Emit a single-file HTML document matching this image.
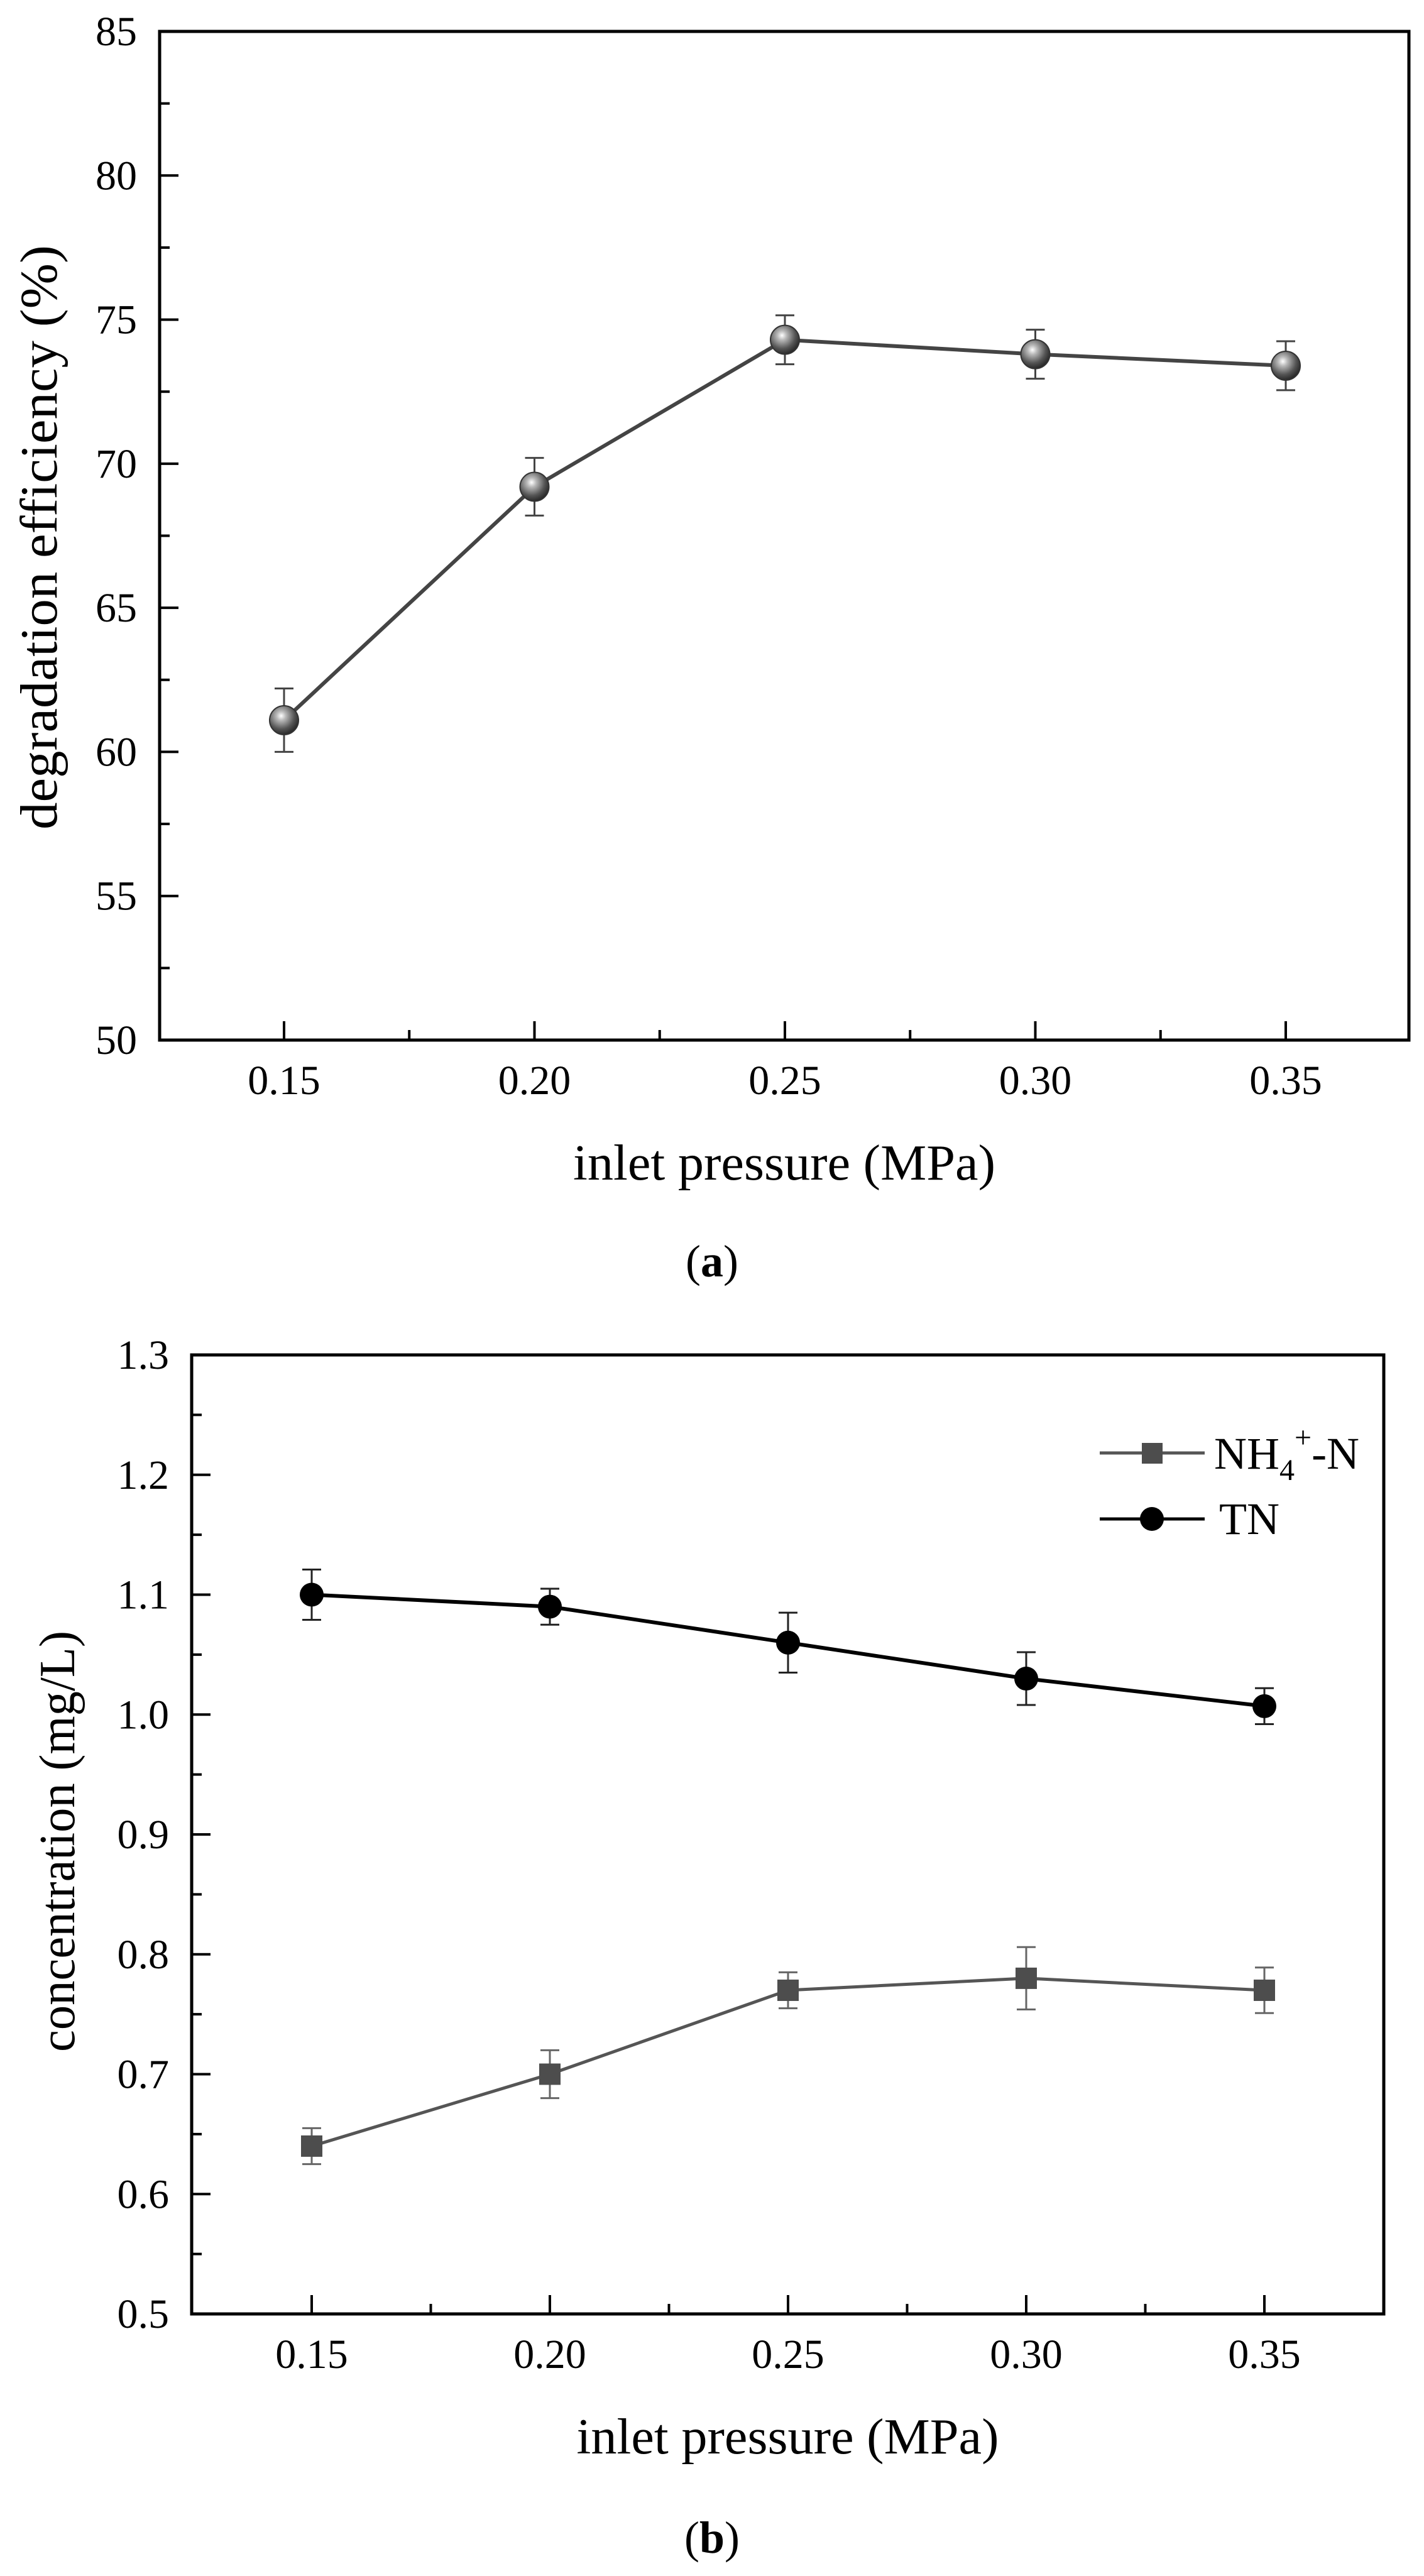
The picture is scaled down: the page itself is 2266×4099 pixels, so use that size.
<!DOCTYPE html>
<html><head><meta charset="utf-8"><style>
html,body{margin:0;padding:0;background:#fff;}
svg{display:block;font-family:"Liberation Serif",serif;}
</style></head><body>
<svg id="svg" width="2266" height="4099" viewBox="0 0 2266 4099" xmlns="http://www.w3.org/2000/svg">
<defs>
<radialGradient id="sph" cx="0.4" cy="0.35" r="0.65">
<stop offset="0" stop-color="#ffffff"/><stop offset="0.25" stop-color="#b8b8b8"/><stop offset="0.7" stop-color="#555"/><stop offset="1" stop-color="#2a2a2a"/>
</radialGradient>
</defs>
<g id="chartA"></g>
<g id="chartB"></g>
<text x="1133" y="2031" font-size="72" text-anchor="middle">(<tspan font-weight="bold">a</tspan>)</text>
<text x="1133" y="4062" font-size="72" text-anchor="middle">(<tspan font-weight="bold">b</tspan>)</text>
</svg>
<script>
const xCats = [0.15, 0.20, 0.25, 0.30, 0.35];
const xTickLabels = ["0.15", "0.20", "0.25", "0.30", "0.35"];
const effValues = [61.1, 69.2, 74.3, 73.8, 73.4];
const effErr = [1.1, 1.0, 0.85, 0.85, 0.85];
const effTicks = [50, 55, 60, 65, 70, 75, 80, 85];
const tnValues = [1.10, 1.09, 1.06, 1.03, 1.007];
const tnErr = [0.021, 0.015, 0.025, 0.022, 0.015];
const nhValues = [0.64, 0.70, 0.77, 0.78, 0.77];
const nhErr = [0.015, 0.02, 0.015, 0.026, 0.019];
const concTicks = [0.5, 0.6, 0.7, 0.8, 0.9, 1.0, 1.1, 1.2, 1.3];
const concTickLabels = ["0.5", "0.6", "0.7", "0.8", "0.9", "1.0", "1.1", "1.2", "1.3"];

const NS = "http://www.w3.org/2000/svg";
function mk(parent, tag, attrs, text) {
  const e = document.createElementNS(NS, tag);
  for (const k in attrs) e.setAttribute(k, attrs[k]);
  if (text !== undefined) e.textContent = text;
  parent.appendChild(e);
  return e;
}

function drawAxes(g, L, R, T, B, xScale, yScale, yTicks, yLabels, xTitle, yTitle, yTitleX, yTitleCy, yTitleLen, yTitleFs) {
  const frame = mk(g, 'rect', {x: L, y: T, width: R - L, height: B - T, fill: 'none', stroke: '#000', 'stroke-width': 5});
  
  
  xCats.forEach((v, i) => {
    const x = xScale(v);
    const t = mk(g, 'line', {x1: x, x2: x, y1: B, y2: B - 30, stroke: '#000', 'stroke-width': 4});
    
    
    const lb = mk(g, 'text', {x: x, y: B + 86, 'font-size': 66, 'text-anchor': 'middle'}, xTickLabels[i]);
    
    
    if (i < xCats.length - 1) {
      const xm = xScale((v + xCats[i + 1]) / 2);
      const m = mk(g, 'line', {x1: xm, x2: xm, y1: B, y2: B - 16, stroke: '#000', 'stroke-width': 4});
      
      
    }
  });
  yTicks.forEach((v, i) => {
    const y = yScale(v);
    const t = mk(g, 'line', {x1: L, x2: L + 30, y1: y, y2: y, stroke: '#000', 'stroke-width': 4});
    
    
    const lb = mk(g, 'text', {x: L - 36, y: y + 22, 'font-size': 66, 'text-anchor': 'end'}, yLabels[i]);
    
    
    if (i < yTicks.length - 1) {
      const ym = yScale((v + yTicks[i + 1]) / 2);
      const m = mk(g, 'line', {x1: L, x2: L + 16, y1: ym, y2: ym, stroke: '#000', 'stroke-width': 4});
      
      
    }
  });
  const xt = mk(g, 'text', {x: (L + R) / 2, y: B + 222, 'font-size': 80, 'text-anchor': 'middle', textLength: 672, lengthAdjust: 'spacingAndGlyphs'}, xTitle);
  
  
  const yt = mk(g, 'text', {x: -yTitleLen / 2, y: 0, 'font-size': yTitleFs, textLength: yTitleLen, lengthAdjust: 'spacingAndGlyphs', transform: 'translate(' + yTitleX + ',' + yTitleCy + ') rotate(-90)'}, yTitle);
  
  
}

function errBars(g, xScale, yScale, vals, errs, color, name) {
  vals.forEach((v, i) => {
    const x = xScale(xCats[i]);
    const y1 = yScale(v + errs[i]), y2 = yScale(v - errs[i]);
    const e = mk(g, 'path', {d: 'M' + x + ' ' + y1 + 'V' + y2 + 'M' + (x - 15) + ' ' + y1 + 'H' + (x + 15) + 'M' + (x - 15) + ' ' + y2 + 'H' + (x + 15), stroke: color, 'stroke-width': 3, fill: 'none'});
    
    
  });
}
function line(g, xScale, yScale, vals, color, w, name) {
  const d = vals.map((v, i) => (i ? 'L' : 'M') + xScale(xCats[i]) + ' ' + yScale(v)).join('');
  const p = mk(g, 'path', {d: d, stroke: color, 'stroke-width': w, fill: 'none'});
  
  
}

// Chart A
(function () {
  const g = document.getElementById('chartA');
  const L = 254, R = 2242, T = 50, B = 1655;
  const xScale = v => 452 + (v - 0.15) / 0.20 * (2046 - 452);
  const yScale = v => B - (v - 50) / 35 * (B - T);
  drawAxes(g, L, R, T, B, xScale, yScale, effTicks, effTicks.map(String), 'inlet pressure (MPa)', 'degradation efficiency (%)', 90, 855, 930, 84);
  errBars(g, xScale, yScale, effValues, effErr, '#444', 'efficiency-error-bar');
  line(g, xScale, yScale, effValues, '#444', 6, 'efficiency-line');
  effValues.forEach((v, i) => {
    const c = mk(g, 'circle', {cx: xScale(xCats[i]), cy: yScale(v), r: 23, fill: 'url(#sph)', stroke: '#333', 'stroke-width': 2});
    
    
  });
})();

// Chart B
(function () {
  const g = document.getElementById('chartB');
  const L = 305, R = 2202, T = 2156, B = 3682;
  const xScale = v => 496 + (v - 0.15) / 0.20 * (2012 - 496);
  const yScale = v => B - (v - 0.5) / 0.8 * (B - T);
  drawAxes(g, L, R, T, B, xScale, yScale, concTicks, concTickLabels, 'inlet pressure (MPa)', 'concentration (mg/L)', 118, 2930, 670, 80);
  errBars(g, xScale, yScale, nhValues, nhErr, '#666', 'nh4-error-bar');
  errBars(g, xScale, yScale, tnValues, tnErr, '#222', 'tn-error-bar');
  line(g, xScale, yScale, nhValues, '#555', 5, 'nh4-line');
  line(g, xScale, yScale, tnValues, '#000', 6, 'tn-line');
  nhValues.forEach((v, i) => {
    const s = mk(g, 'rect', {x: xScale(xCats[i]) - 17, y: yScale(v) - 17, width: 34, height: 34, fill: '#4d4d4d'});
    
    
  });
  tnValues.forEach((v, i) => {
    const c = mk(g, 'circle', {cx: xScale(xCats[i]), cy: yScale(v), r: 19, fill: '#000'});
    
    
  });
  const lg = mk(g, 'g', {});
  
  
  const l1 = mk(lg, 'line', {x1: 1750, x2: 1917, y1: 2312, y2: 2312, stroke: '#555', 'stroke-width': 5});
  
  
  const s1 = mk(lg, 'rect', {x: 1817, y: 2296, width: 33, height: 33, fill: '#4d4d4d'});
  
  
  const t1 = mk(lg, 'text', {x: 1932, y: 2337, 'font-size': 72});
  
  
  t1.innerHTML = 'NH<tspan font-size="48" dy="18">4</tspan><tspan font-size="48" dy="-52">+</tspan><tspan dy="34">-N</tspan>';
  const l2 = mk(lg, 'line', {x1: 1750, x2: 1917, y1: 2417, y2: 2417, stroke: '#000', 'stroke-width': 5});
  
  
  const c2 = mk(lg, 'circle', {cx: 1833, cy: 2417, r: 19, fill: '#000'});
  
  
  const t2 = mk(lg, 'text', {x: 1940, y: 2441, 'font-size': 72}, 'TN');
  
  
})();
</script>
</body></html>
